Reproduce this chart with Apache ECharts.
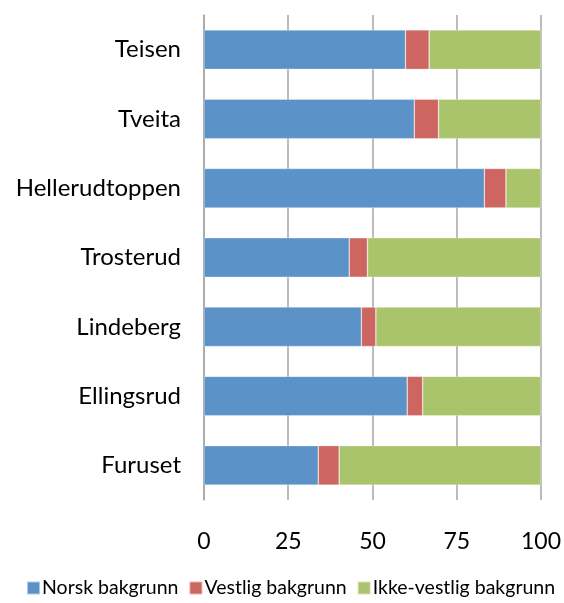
<!DOCTYPE html>
<html>
<head>
<meta charset="utf-8">
<script src="https://cdn.jsdelivr.net/npm/echarts@6/dist/echarts.min.js"></script>
<style>
  html, body { margin: 0; padding: 0; background: #fff; }
  #chart { width: 564px; height: 603px; }
</style>
</head>
<body>
<div id="chart"></div>
<script>
// categories, bottom to top
const steder = ['Furuset', 'Ellingsrud', 'Lindeberg', 'Trosterud', 'Hellerudtoppen', 'Tveita', 'Teisen'];

// andel i prosent
const norsk = [33.9, 60.3, 46.7, 43.1, 83.2, 62.4, 59.8];
const vestlig = [6.2, 4.6, 4.3, 5.4, 6.4, 7.2, 7.0];
const ikkeVestlig = [59.9, 35.1, 49.0, 51.5, 10.4, 30.4, 33.2];

const xTicks = [0, 25, 50, 75, 100];

const chart = echarts.init(document.getElementById('chart'));

function bar(name, data, color) {
  return {
    name: name,
    type: 'bar',
    stack: 'total',
    data: data,
    barCategoryGap: '43%',
    itemStyle: {
      color: color,
      borderColor: 'rgba(255,255,255,0.5)',
      borderWidth: 0.6
    }
  };
}

const option = {
  animation: false,
  textStyle: { fontFamily: 'Lato' },
  grid: { left: 204, right: 23, top: 15, bottom: 103 },
  legend: {
    bottom: 5,
    left: 26,
    width: 560,
    padding: 0,
    itemWidth: 13,
    itemHeight: 13,
    itemGap: 10,
    icon: 'rect',
    textStyle: { fontSize: 19.5, color: '#000', padding: [0, 0, 0, -3] },
    data: ['Norsk bakgrunn', 'Vestlig bakgrunn', 'Ikke-vestlig bakgrunn']
  },
  xAxis: {
    type: 'value',
    min: 0,
    max: 100,
    interval: 25,
    axisLine: { show: false },
    axisTick: { show: false },
    axisLabel: {
      fontSize: 23,
      color: '#000',
      margin: 30,
      formatter: v => xTicks.includes(v) ? String(v) : ''
    },
    splitLine: { lineStyle: { color: '#a6a6a6', width: 1.5 } }
  },
  yAxis: {
    type: 'category',
    data: steder,
    axisLine: { lineStyle: { color: '#a6a6a6', width: 1.5 } },
    axisTick: { show: false },
    axisLabel: { fontSize: 24, color: '#000', margin: 23 }
  },
  series: [
    bar('Norsk bakgrunn', norsk, '#5b93c8'),
    bar('Vestlig bakgrunn', vestlig, '#cd6660'),
    bar('Ikke-vestlig bakgrunn', ikkeVestlig, '#aac46c')
  ]
};

chart.setOption(option);
</script>
</body>
</html>
